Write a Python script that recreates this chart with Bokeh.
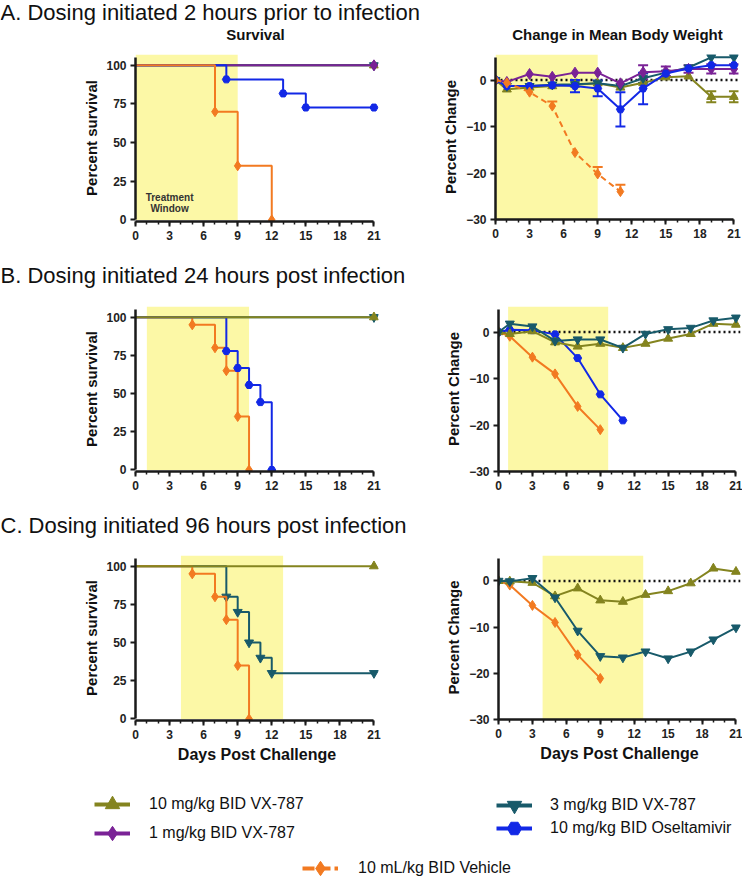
from bokeh.plotting import figure
from bokeh.layouts import column, row
from bokeh.models import (Range1d, SingleIntervalTicker, FixedTicker, BoxAnnotation,
                          Span, Whisker, TeeHead, ColumnDataSource, Label, Legend, LegendItem)
from bokeh.core.properties import value
from bokeh.embed import file_html
from bokeh.resources import INLINE

FONT = "Liberation Sans"

# ---------------- data ----------------
series_labels = {
    "10": "10 mg/kg BID VX-787",
    "1": "1 mg/kg BID VX-787",
    "3": "3 mg/kg BID VX-787",
    "os": "10 mg/kg BID Oseltamivir",
    "veh": "10 mL/kg BID Vehicle",
}
panel_headings = ["A.  Dosing initiated 2 hours prior to infection",
                  "B.  Dosing initiated 24 hours post infection",
                  "C.  Dosing initiated 96 hours post infection"]
col_titles = ["Survival", "Change in Mean Body Weight"]

# treatment windows (days)
window_surv = [(0, 9), (1, 10), (4, 13)]
window_weight = [(0, 9), (0.85, 9.7), (3.9, 12.8)]

# survival (Kaplan-Meier steps): days of events, percent surviving
sA_10_days = [0, 21]; sA_10_pct = [100, 100]
sA_1_days = [0, 21]; sA_1_pct = [100, 100]
sA_3_days = [0, 21]; sA_3_pct = [100, 100]
sA_os_days = [0, 8, 13, 15, 21]; sA_os_pct = [100, 90.9, 81.8, 72.7, 72.7]
sA_veh_days = [0, 7, 9, 12]; sA_veh_pct = [100, 70, 35, 0]

sB_10_days = [0, 21]; sB_10_pct = [100, 100]
sB_3_days = [0, 21]; sB_3_pct = [100, 100]
sB_os_days = [0, 8, 9, 10, 11, 12]; sB_os_pct = [100, 77.8, 66.7, 55.6, 44.4, 0]
sB_veh_days = [0, 5, 7, 8, 9, 10]; sB_veh_pct = [100, 95, 80, 65, 35, 0]

sC_10_days = [0, 21]; sC_10_pct = [100, 100]
sC_3_days = [0, 8, 9, 10, 11, 12, 21]; sC_3_pct = [100, 80, 70, 50, 40, 30, 30]
sC_veh_days = [0, 5, 7, 8, 9, 10]; sC_veh_pct = [100, 95, 80, 65, 35, 0]

# body weight (% change)
weight_days = [0, 1, 3, 5, 7, 9, 11, 13, 15, 17, 19, 21]

wA_10 = [0, -2.0, -1.6, -1.3, -1.0, -0.7, -1.6, -0.6, 0.6, 0.8, -3.6, -3.6]
wA_10_err = [0, 0, 0, 0, 0, 0, 0, 0, 0, 0, 1.2, 1.2]
wA_1 = [0, -0.4, 1.3, 0.7, 1.6, 1.6, -0.7, 1.7, 1.9, 2.4, 2.4, 2.4]
wA_1_err = [0, 0, 0, 0, 0, 0, 0, 1.5, 1.0, 0.8, 1.0, 1.0]
wA_3 = [0, -1.3, -1.3, -1.0, -0.9, -0.7, -1.3, 0.4, 1.6, 2.7, 4.9, 4.9]
wA_3_err = [0, 0, 0, 0, 0, 0, 0, 1.0, 0, 0, 0, 0]
wA_os = [0, -1.3, -1.3, -1.1, -1.3, -1.8, -6.3, -1.8, 1.4, 2.5, 3.2, 3.2]
wA_os_err = [0, 0, 0, 0, 1.3, 1.7, 3.7, 3.4, 0, 0, 0, 0]
wA_veh_days = [0, 1, 3, 5, 7, 9, 11]
wA_veh = [0, -0.6, -2.6, -5.6, -15.6, -20.2, -24.0]
wA_veh_err = [0, 0, 0, 1.0, 0, 1.5, 1.5]

wB_10 = [0, -0.4, 0.2, -2.2, -3.1, -2.5, -3.4, -2.5, -1.4, -0.4, 1.8, 1.6]
wB_3 = [0, 1.8, 1.2, -1.9, -1.6, -1.6, -3.4, -0.4, 0.6, 0.9, 2.5, 3.1]
wB_os_days = [0, 1, 3, 5, 7, 9, 11]
wB_os = [0, 0.5, 0.4, -0.5, -5.6, -13.4, -19.0]
wB_veh_days = [0, 1, 3, 5, 7, 9]
wB_veh = [0, -0.9, -5.4, -9.0, -16.0, -21.0]

wC_10 = [0, -0.1, -0.4, -3.3, -1.6, -4.2, -4.5, -3.0, -2.2, -0.5, 2.7, 2.0]
wC_3 = [0, -0.1, 0.6, -3.6, -10.8, -16.3, -16.6, -15.3, -16.8, -15.3, -12.7, -10.1]
wC_veh_days = [0, 1, 3, 5, 7, 9]
wC_veh = [0, -0.9, -5.3, -9.0, -16.0, -21.1]

surv_ticks = [0, 25, 50, 75, 100]
weight_ticks = [-30, -20, -10, 0]

# ---------------- styles ----------------
STYLE = {
    "10": ("#84841f", "triangle", 10),
    "1": ("#7a2296", "diamond", 12),
    "3": ("#185a6a", "inverted_triangle", 10),
    "os": ("#1228e6", "hex", 9),
    "veh": ("#f27a21", "diamond", 11),
}
YELLOW = "#fcf8a6"
AXIS_COL = "#1a1a1a"


def base_fig(frame_w, frame_h, mb, y_start, y_end):
    p = figure(frame_width=frame_w, frame_height=frame_h,
               x_range=Range1d(0, 21.4), y_range=Range1d(y_start, y_end),
               toolbar_location=None, output_backend="svg",
               min_border_left=mb[0], min_border_right=mb[1],
               min_border_top=mb[2], min_border_bottom=mb[3])
    p.outline_line_color = None
    p.xgrid.visible = False
    p.ygrid.visible = False
    p.xaxis.ticker = SingleIntervalTicker(interval=3, num_minor_ticks=3)
    p.xaxis.bounds = (0, 21)
    for ax in (p.xaxis, p.yaxis):
        ax.axis_line_width = 2.5
        ax.axis_line_color = AXIS_COL
        ax.major_tick_line_width = 2
        ax.major_tick_line_color = AXIS_COL
        ax.major_tick_out = 5
        ax.major_tick_in = 0
        ax.minor_tick_line_width = 1.5
        ax.minor_tick_line_color = AXIS_COL
        ax.minor_tick_out = 3
        ax.minor_tick_in = 0
        ax.major_label_text_font = FONT
        ax.major_label_text_font_style = "bold"
        ax.major_label_text_font_size = "12px"
        ax.major_label_text_color = "#222222"
        ax.axis_label_text_font = FONT
        ax.axis_label_text_font_style = "bold"
        ax.axis_label_text_color = "#111111"
    p.xaxis.major_label_standoff = 4
    p.yaxis.major_label_standoff = 4
    return p


def surv_fig(mb, frame_h, window, xlabel=None):
    p = base_fig(243, frame_h, mb, -1, 107)
    p.yaxis.ticker = FixedTicker(ticks=surv_ticks)
    p.yaxis.bounds = (0, 105)
    p.yaxis.axis_label = "Percent survival"
    p.yaxis.axis_label_text_font_size = "15px"
    p.yaxis.axis_label_standoff = 3
    if xlabel:
        p.xaxis.axis_label = xlabel
        p.xaxis.axis_label_text_font_size = "16px"
        p.xaxis.axis_label_standoff = 4
    p.add_layout(BoxAnnotation(left=window[0], right=window[1], bottom=0,
                               fill_color=YELLOW, fill_alpha=1.0, line_alpha=0,
                               level="underlay"))
    return p


def weight_fig(mb, frame_w, frame_h, window, xlabel=None):
    p = base_fig(frame_w, frame_h, mb, -30, 5.5)
    p.yaxis.ticker = FixedTicker(ticks=weight_ticks)
    p.yaxis.bounds = (-30, 4.8)
    p.yaxis.axis_label = "Percent Change"
    p.yaxis.axis_label_text_font_size = "15px"
    p.yaxis.axis_label_standoff = 4
    if xlabel:
        p.xaxis.axis_label = xlabel
        p.xaxis.axis_label_text_font_size = "16px"
        p.xaxis.axis_label_standoff = 4
    p.add_layout(BoxAnnotation(left=window[0], right=window[1],
                               fill_color=YELLOW, fill_alpha=1.0, line_alpha=0,
                               level="underlay"))
    p.add_layout(Span(location=0, dimension="width", line_color="#111111",
                      line_width=2.5, line_dash="2 3", level="underlay"))
    return p


def add_surv(p, days, pct, key):
    c, m, s = STYLE[key]
    p.step(days, pct, mode="after", line_color=c, line_width=2)
    p.scatter(days[1:], pct[1:], marker=m, size=s - 1, fill_color=c, line_color=c)


def add_weight(p, days, vals, key, errs=None, dash="solid", upper_only=False):
    c, m, s = STYLE[key]
    p.line(days, vals, line_color=c, line_width=2, line_dash=dash)
    if errs:
        idx = [i for i, e in enumerate(errs) if e > 0]
        src = ColumnDataSource(dict(
            base=[days[i] for i in idx],
            upper=[vals[i] + errs[i] for i in idx],
            lower=[vals[i] if upper_only else vals[i] - errs[i] for i in idx]))
        p.add_layout(Whisker(source=src, base="base", upper="upper", lower="lower",
                             line_color=c, line_width=1.8,
                             upper_head=TeeHead(size=10, line_color=c, line_width=2),
                             lower_head=None if upper_only else TeeHead(size=10, line_color=c, line_width=2)))
    p.scatter(days, vals, marker=m, size=s - 1, fill_color=c, line_color=c)


def header(h, labels):
    p = figure(width=742, height=h, x_range=Range1d(0, 742), y_range=Range1d(h, 0),
               toolbar_location=None, output_backend="svg",
               x_axis_location=None, y_axis_location=None, min_border=0)
    p.outline_line_color = None
    p.grid.visible = False
    for (x, y, txt, size, style, align) in labels:
        p.add_layout(Label(x=x, y=y, text=txt, text_font=FONT, text_font_size=size,
                           text_font_style=style, text_align=align,
                           text_baseline="middle", text_color="#111111"))
    return p


# ---------------- row A ----------------
hA = header(44, [(0, 12, panel_headings[0], "22px", "normal", "left"),
                 (255, 34, col_titles[0], "15px", "bold", "center"),
                 (617, 34, col_titles[1], "15px", "bold", "center")])

pA1 = surv_fig((135, 12, 9, 38), 167, window_surv[0])
add_surv(pA1, sA_10_days, sA_10_pct, "10")
add_surv(pA1, sA_3_days, sA_3_pct, "3")
add_surv(pA1, sA_1_days, sA_1_pct, "1")
add_surv(pA1, sA_os_days, sA_os_pct, "os")
add_surv(pA1, sA_veh_days, sA_veh_pct, "veh")
pA1.add_layout(Label(x=3, y=14.5, text="Treatment", text_font=FONT, text_font_size="10px",
                     text_font_style="bold", text_align="center", text_baseline="middle",
                     text_color="#333333"))
pA1.add_layout(Label(x=3, y=7.3, text="Window", text_font=FONT, text_font_size="10px",
                     text_font_style="bold", text_align="center", text_baseline="middle",
                     text_color="#333333"))

pA2 = weight_fig((105, 4, 10, 39), 243, 165, window_weight[0])
add_weight(pA2, weight_days, wA_10, "10", wA_10_err)
add_weight(pA2, weight_days, wA_3, "3", wA_3_err)
add_weight(pA2, weight_days, wA_1, "1", wA_1_err)
add_weight(pA2, weight_days, wA_os, "os", wA_os_err)
add_weight(pA2, wA_veh_days, wA_veh, "veh", wA_veh_err, dash="6 4", upper_only=True)

# ---------------- row B ----------------
hB = header(34, [(0, 17, panel_headings[1], "22px", "normal", "left")])

pB1 = surv_fig((135, 12, 14, 37), 165, window_surv[1])
add_surv(pB1, sB_3_days, sB_3_pct, "3")
add_surv(pB1, sB_veh_days, sB_veh_pct, "veh")
add_surv(pB1, sB_os_days, sB_os_pct, "os")
add_surv(pB1, sB_10_days, sB_10_pct, "10")

pB2 = weight_fig((108, 2, 13, 38), 242, 165, window_weight[1])
add_weight(pB2, wB_veh_days, wB_veh, "veh")
add_weight(pB2, wB_os_days, wB_os, "os")
add_weight(pB2, weight_days, wB_10, "10")
add_weight(pB2, weight_days, wB_3, "3")

# ---------------- row C ----------------
hC = header(34, [(0, 17, panel_headings[2], "22px", "normal", "left")])

pC1 = surv_fig((135, 12, 13, 50), 165, window_surv[2], xlabel="Days Post Challenge")
add_surv(pC1, sC_3_days, sC_3_pct, "3")
add_surv(pC1, sC_veh_days, sC_veh_pct, "veh")
add_surv(pC1, sC_10_days, sC_10_pct, "10")

pC2 = weight_fig((108, 2, 11, 53), 242, 164, window_weight[2], xlabel="Days Post Challenge")
add_weight(pC2, wC_veh_days, wC_veh, "veh")
add_weight(pC2, weight_days, wC_10, "10")
add_weight(pC2, weight_days, wC_3, "3")

# ---------------- legend ----------------
# The legend panel holds the series (outside its visible window) so that
# Bokeh's Legend can draw each key from the real renderers.
LH = 107
lg = figure(width=742, height=LH, x_range=Range1d(500, 501), y_range=Range1d(500, 501),
            toolbar_location=None, output_backend="svg",
            x_axis_location=None, y_axis_location=None, min_border=0)
lg.outline_line_color = None
lg.grid.visible = False

legend_series = {
    "10": (weight_days, wA_10),
    "1": (weight_days, wA_1),
    "3": (weight_days, wA_3),
    "os": (weight_days, wA_os),
    "veh": (wA_veh_days, wA_veh),
}
legend_spec = [  # key, left x, row centre from top, standoff, dash
    ("10", 94, 34, 19, "solid"),
    ("1", 94, 63, 19, "solid"),
    ("3", 496, 35, 18, "solid"),
    ("os", 496, 58, 18, "solid"),
    ("veh", 302, 98, 20, "12 4"),
]
for key, lx, cy, so, dash in legend_spec:
    c, m, s = STYLE[key]
    xs, ys = legend_series[key]
    rl = lg.line(x=xs, y=ys, line_color=c, line_width=4, line_dash=dash)
    rs = lg.scatter(x=xs, y=ys, marker=m, fill_color=c, line_color=c)
    leg = Legend(items=[LegendItem(label=value(series_labels[key]), renderers=[rl, rs])],
                 location=(lx, LH - (cy + 20)), glyph_width=36, glyph_height=40,
                 label_height=40, label_standoff=so, padding=0, margin=0, spacing=0,
                 border_line_color=None, background_fill_alpha=0,
                 label_text_font=FONT, label_text_font_size="16px",
                 label_text_color="#111111")
    lg.add_layout(leg)

layout = column(hA, row(pA1, pA2), hB, row(pB1, pB2), hC, row(pC1, pC2), lg)

open("out.html", "w").write(file_html(layout, INLINE))
